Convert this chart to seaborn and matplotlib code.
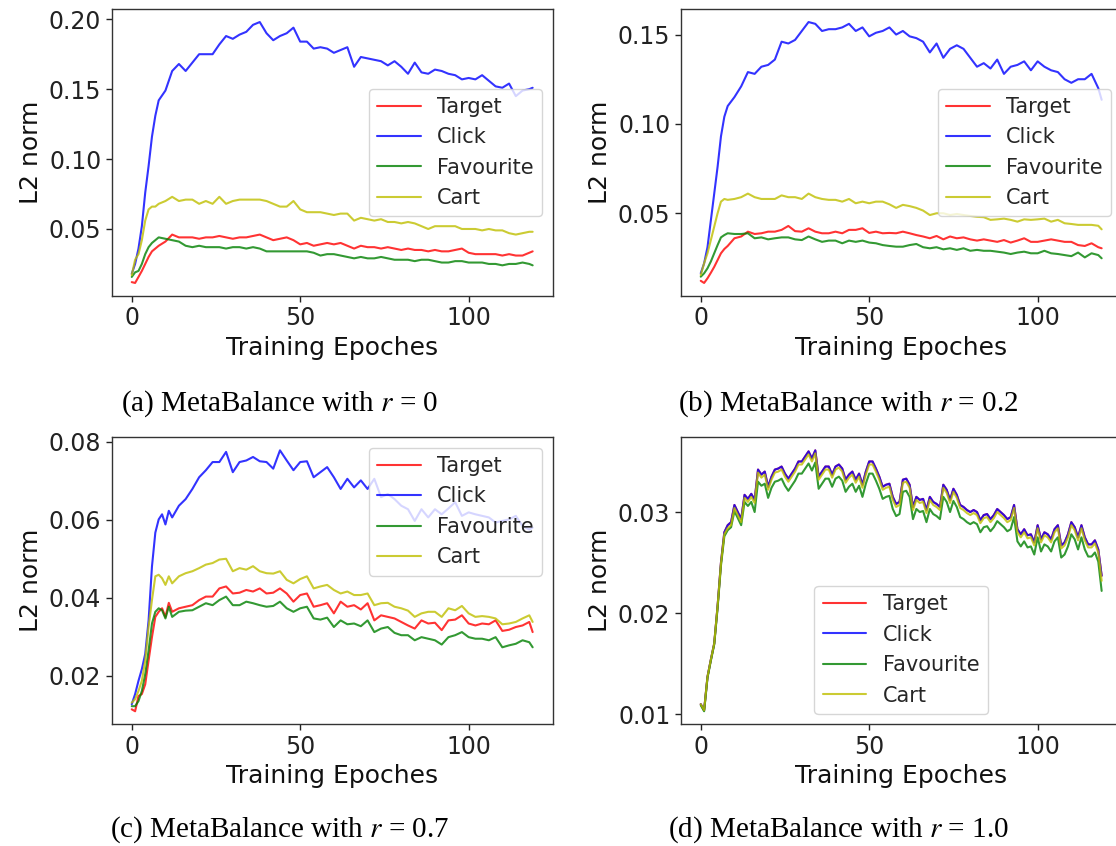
import matplotlib
matplotlib.use("Agg")
import matplotlib.pyplot as plt
import seaborn as sns

# ---------------- data ----------------
SERIES = ["Target", "Click", "Favourite", "Cart"]
COLORS = ["r", "b", "g", "y"]

EPOCHS_AB = [0, 1, 2, 3, 4, 5, 6, 7, 8,
             10, 12, 14, 16, 18, 20, 22, 24, 26, 28,
             30, 32, 34, 36, 38, 40, 42, 44, 46, 48,
             50, 52, 54, 56, 58, 60, 62, 64, 66, 68,
             70, 72, 74, 76, 78, 80, 82, 84, 86, 88,
             90, 92, 94, 96, 98, 100, 102, 104, 106, 108,
             110, 112, 114, 116, 118, 119]

A_TARGET = [0.012, 0.0114, 0.0157, 0.020, 0.025, 0.030, 0.034, 0.036, 0.038,
            0.041, 0.046, 0.044, 0.044, 0.044, 0.043, 0.044, 0.044, 0.045, 0.044,
            0.043, 0.044, 0.044, 0.045, 0.046, 0.044, 0.042, 0.043, 0.044, 0.042,
            0.039, 0.040, 0.038, 0.039, 0.040, 0.039, 0.040, 0.038, 0.036, 0.038,
            0.037, 0.037, 0.036, 0.037, 0.036, 0.035, 0.036, 0.035, 0.035, 0.034,
            0.035, 0.034, 0.034, 0.035, 0.036, 0.033, 0.032, 0.032, 0.032, 0.032,
            0.031, 0.032, 0.031, 0.031, 0.033, 0.034]
A_CLICK = [0.018, 0.025, 0.036, 0.052, 0.076, 0.095, 0.116, 0.131, 0.142,
           0.149, 0.163, 0.168, 0.163, 0.169, 0.175, 0.175, 0.175, 0.182, 0.188,
           0.186, 0.189, 0.191, 0.196, 0.198, 0.190, 0.185, 0.188, 0.190, 0.194,
           0.184, 0.184, 0.179, 0.180, 0.179, 0.176, 0.178, 0.180, 0.166, 0.173,
           0.172, 0.171, 0.170, 0.167, 0.170, 0.166, 0.161, 0.169, 0.162, 0.161,
           0.164, 0.163, 0.161, 0.160, 0.157, 0.158, 0.157, 0.160, 0.156, 0.152,
           0.151, 0.154, 0.145, 0.149, 0.150, 0.151]
A_FAV = [0.0157, 0.019, 0.020, 0.025, 0.032, 0.037, 0.040, 0.042, 0.044,
         0.043, 0.042, 0.041, 0.038, 0.037, 0.038, 0.037, 0.037, 0.037, 0.036,
         0.037, 0.037, 0.036, 0.037, 0.036, 0.034, 0.034, 0.034, 0.034, 0.034,
         0.034, 0.034, 0.033, 0.031, 0.032, 0.032, 0.031, 0.030, 0.029, 0.030,
         0.029, 0.029, 0.030, 0.029, 0.028, 0.028, 0.028, 0.027, 0.028, 0.028,
         0.027, 0.026, 0.026, 0.027, 0.027, 0.026, 0.026, 0.026, 0.025, 0.025,
         0.024, 0.025, 0.025, 0.026, 0.025, 0.024]
A_CART = [0.017, 0.028, 0.032, 0.042, 0.056, 0.064, 0.066, 0.066, 0.068,
          0.070, 0.073, 0.070, 0.071, 0.071, 0.068, 0.070, 0.068, 0.073, 0.068,
          0.070, 0.071, 0.071, 0.071, 0.071, 0.070, 0.068, 0.066, 0.066, 0.070,
          0.064, 0.062, 0.062, 0.062, 0.061, 0.060, 0.061, 0.061, 0.056, 0.058,
          0.057, 0.056, 0.057, 0.055, 0.055, 0.054, 0.055, 0.054, 0.052, 0.050,
          0.052, 0.052, 0.052, 0.052, 0.050, 0.050, 0.050, 0.049, 0.050, 0.049,
          0.049, 0.047, 0.046, 0.047, 0.048, 0.048]

B_TARGET = [0.0122, 0.011, 0.0136, 0.0167, 0.020, 0.0238, 0.0276, 0.030, 0.0317,
            0.036, 0.037, 0.0397, 0.0384, 0.0388, 0.0397, 0.0397, 0.0407, 0.0429, 0.040,
            0.0397, 0.0416, 0.0397, 0.0388, 0.0388, 0.0397, 0.0388, 0.0407, 0.0407, 0.0416,
            0.039, 0.0397, 0.0388, 0.039, 0.0388, 0.0397, 0.0388, 0.0378, 0.037, 0.036,
            0.0373, 0.0354, 0.037, 0.036, 0.0365, 0.0354, 0.0347, 0.0354, 0.0347, 0.034,
            0.035, 0.0336, 0.0347, 0.036, 0.034, 0.034, 0.0347, 0.0354, 0.0347, 0.034,
            0.034, 0.0322, 0.0317, 0.0332, 0.031, 0.0304]
B_CLICK = [0.0164, 0.022, 0.031, 0.046, 0.061, 0.076, 0.093, 0.104, 0.110,
           0.115, 0.121, 0.129, 0.128, 0.132, 0.133, 0.136, 0.146, 0.145, 0.147,
           0.152, 0.157, 0.156, 0.152, 0.153, 0.153, 0.154, 0.156, 0.152, 0.154,
           0.149, 0.151, 0.152, 0.154, 0.150, 0.152, 0.149, 0.148, 0.146, 0.140,
           0.145, 0.137, 0.142, 0.144, 0.142, 0.137, 0.132, 0.134, 0.131, 0.136,
           0.128, 0.132, 0.133, 0.135, 0.130, 0.135, 0.132, 0.130, 0.129, 0.125,
           0.123, 0.125, 0.125, 0.128, 0.120, 0.1135]
B_FAV = [0.0145, 0.0164, 0.0192, 0.023, 0.0276, 0.0322, 0.0365, 0.0378, 0.0388,
         0.0384, 0.0384, 0.0388, 0.036, 0.0365, 0.0354, 0.036, 0.0365, 0.0365, 0.0354,
         0.035, 0.037, 0.0354, 0.034, 0.0347, 0.0347, 0.0332, 0.0347, 0.034, 0.0347,
         0.0336, 0.0332, 0.0322, 0.0317, 0.0313, 0.0313, 0.0322, 0.0328, 0.031, 0.0304,
         0.031, 0.0298, 0.0304, 0.0295, 0.0304, 0.029, 0.0295, 0.029, 0.029, 0.0285,
         0.028, 0.0272, 0.028, 0.0285, 0.0276, 0.0276, 0.029, 0.0276, 0.0272, 0.0266,
         0.026, 0.028, 0.0253, 0.0276, 0.0266, 0.0248]
B_CART = [0.0154, 0.022, 0.0276, 0.035, 0.0425, 0.050, 0.0565, 0.058, 0.0575,
          0.058, 0.059, 0.061, 0.059, 0.058, 0.058, 0.058, 0.060, 0.059, 0.059,
          0.058, 0.061, 0.059, 0.058, 0.0575, 0.0575, 0.0565, 0.058, 0.0556, 0.0565,
          0.0556, 0.0565, 0.0565, 0.055, 0.053, 0.0547, 0.054, 0.053, 0.0515, 0.049,
          0.050, 0.050, 0.049, 0.0496, 0.049, 0.0485, 0.048, 0.0478, 0.0463, 0.0466,
          0.047, 0.0463, 0.0453, 0.0466, 0.0463, 0.0466, 0.047, 0.0453, 0.0463, 0.0444,
          0.044, 0.0435, 0.0435, 0.0435, 0.043, 0.041]

EPOCHS_C = [0, 1, 2, 3, 4, 5, 6, 7, 8, 9, 10, 11, 12,
            14, 16, 18, 20, 22, 24, 26, 28, 30, 32,
            34, 36, 38, 40, 42, 44, 46, 48, 50, 52,
            54, 56, 58, 60, 62, 64, 66, 68, 70, 72,
            74, 76, 78, 80, 82, 84, 86, 88, 90, 92,
            94, 96, 98, 100, 102, 104, 106, 108, 110, 112,
            114, 116, 118, 119]

C_TARGET = [0.0114, 0.0109, 0.0148, 0.0153, 0.0178, 0.0239, 0.0299, 0.0351, 0.0364, 0.0373, 0.0351, 0.0387, 0.0364,
            0.0373, 0.0377, 0.0381, 0.0394, 0.0403, 0.0403, 0.0424, 0.0429, 0.0411, 0.0413,
            0.042, 0.0416, 0.0424, 0.0411, 0.0413, 0.0424, 0.0411, 0.039, 0.0407, 0.0411,
            0.0377, 0.0381, 0.0386, 0.036, 0.039, 0.0377, 0.0381, 0.037, 0.0386, 0.0342,
            0.0355, 0.0351, 0.0347, 0.0338, 0.0329, 0.0321, 0.0342, 0.0334, 0.0336, 0.0317,
            0.0342, 0.0344, 0.0355, 0.0334, 0.0329, 0.0334, 0.0332, 0.0342, 0.0315, 0.0318,
            0.0325, 0.0329, 0.0338, 0.0312]
C_CLICK = [0.0127, 0.0153, 0.0187, 0.0217, 0.0256, 0.0342, 0.048, 0.0567, 0.0601, 0.0614, 0.0588, 0.0623, 0.0606,
           0.0636, 0.0653, 0.0679, 0.0709, 0.0727, 0.0748, 0.0748, 0.0774, 0.0722, 0.0748,
           0.0752, 0.0761, 0.075, 0.0748, 0.0731, 0.0778, 0.0752, 0.0727, 0.0748, 0.075,
           0.0709, 0.0722, 0.0735, 0.0709, 0.0679, 0.0705, 0.0683, 0.0701, 0.0679, 0.0705,
           0.0658, 0.0666, 0.0653, 0.0636, 0.0627, 0.0597, 0.0627, 0.0606, 0.0627, 0.0614,
           0.0629, 0.0645, 0.061, 0.0619, 0.0614, 0.061, 0.0606, 0.0593, 0.0597, 0.0601,
           0.061, 0.0584, 0.0575, 0.058]
C_FAV = [0.0122, 0.0122, 0.0135, 0.0161, 0.0204, 0.0265, 0.0334, 0.0364, 0.0373, 0.0368, 0.0347, 0.0377, 0.0351,
         0.0364, 0.0367, 0.0368, 0.0377, 0.0386, 0.0381, 0.0394, 0.0403, 0.0381, 0.0381,
         0.039, 0.0386, 0.0381, 0.0377, 0.0379, 0.039, 0.0373, 0.0364, 0.0373, 0.0377,
         0.0347, 0.0344, 0.0349, 0.0325, 0.0342, 0.0332, 0.0334, 0.0327, 0.0342, 0.0312,
         0.0321, 0.0325, 0.031, 0.0304, 0.0304, 0.0291, 0.0299, 0.0295, 0.0291, 0.028,
         0.0299, 0.0304, 0.0312, 0.0299, 0.0295, 0.0295, 0.0291, 0.0299, 0.0273, 0.0278,
         0.0282, 0.0291, 0.0286, 0.0273]
C_CART = [0.0131, 0.014, 0.0161, 0.0187, 0.0239, 0.0325, 0.0394, 0.0455, 0.0459, 0.045, 0.0433, 0.0455, 0.0437,
          0.0455, 0.0463, 0.0468, 0.0476, 0.0485, 0.0489, 0.0498, 0.05, 0.0468, 0.0476,
          0.0472, 0.0481, 0.0468, 0.0463, 0.0462, 0.0468, 0.0446, 0.0437, 0.0448, 0.0455,
          0.0424, 0.0429, 0.0433, 0.042, 0.0411, 0.0416, 0.0407, 0.0407, 0.0411, 0.0381,
          0.0386, 0.0387, 0.0377, 0.0373, 0.0367, 0.0351, 0.036, 0.0364, 0.0364, 0.0351,
          0.0373, 0.0368, 0.0379, 0.036, 0.0351, 0.0353, 0.0351, 0.0347, 0.0332, 0.0334,
          0.0338, 0.0347, 0.0355, 0.0338]

EPOCHS_D = list(range(120))

D_TARGET = [0.0110, 0.0104, 0.0137, 0.0154, 0.0170, 0.0207, 0.0250, 0.0280, 0.0287, 0.0290,
            0.0307, 0.0300, 0.0293, 0.0317, 0.0313, 0.0318, 0.0312, 0.0342, 0.0337, 0.0340,
            0.0325, 0.0335, 0.0342, 0.0343, 0.0345, 0.0338, 0.0333, 0.0338, 0.0343, 0.0350,
            0.0350, 0.0355, 0.0360, 0.0353, 0.0361, 0.0335, 0.0340, 0.0345, 0.0345, 0.0337,
            0.0345, 0.0347, 0.0343, 0.0332, 0.0337, 0.0340, 0.0332, 0.0338, 0.0327, 0.0340,
            0.0350, 0.0350, 0.0343, 0.0335, 0.0325, 0.0327, 0.0328, 0.0315, 0.0308, 0.0310,
            0.0332, 0.0333, 0.0327, 0.0305, 0.0315, 0.0312, 0.0313, 0.0302, 0.0315, 0.0310,
            0.0308, 0.0305, 0.0327, 0.0322, 0.0312, 0.0323, 0.0317, 0.0307, 0.0305, 0.0302,
            0.0300, 0.0302, 0.0300, 0.0292, 0.0297, 0.0298, 0.0293, 0.0297, 0.0303, 0.0300,
            0.0297, 0.0293, 0.0295, 0.0307, 0.0283, 0.0278, 0.0283, 0.0277, 0.0278, 0.0270,
            0.0287, 0.0273, 0.0280, 0.0278, 0.0273, 0.0283, 0.0287, 0.0267, 0.0270, 0.0278,
            0.0290, 0.0285, 0.0275, 0.0287, 0.0275, 0.0268, 0.0268, 0.0272, 0.0263, 0.0237]
D_CLICK = [0.0110, 0.0104, 0.0137, 0.0154, 0.0170, 0.0207, 0.0250, 0.0280, 0.0287, 0.0290,
           0.0307, 0.0300, 0.0293, 0.0317, 0.0313, 0.0318, 0.0312, 0.0342, 0.0337, 0.0340,
           0.0325, 0.0335, 0.0342, 0.0343, 0.0345, 0.0338, 0.0333, 0.0338, 0.0343, 0.0350,
           0.0350, 0.0355, 0.0360, 0.0353, 0.0361, 0.0335, 0.0340, 0.0345, 0.0345, 0.0337,
           0.0345, 0.0347, 0.0343, 0.0332, 0.0337, 0.0340, 0.0332, 0.0338, 0.0327, 0.0340,
           0.0350, 0.0350, 0.0343, 0.0335, 0.0325, 0.0327, 0.0328, 0.0315, 0.0308, 0.0310,
           0.0332, 0.0333, 0.0327, 0.0305, 0.0315, 0.0312, 0.0313, 0.0302, 0.0315, 0.0310,
           0.0308, 0.0305, 0.0327, 0.0322, 0.0312, 0.0323, 0.0317, 0.0307, 0.0305, 0.0302,
           0.0300, 0.0302, 0.0300, 0.0292, 0.0297, 0.0298, 0.0293, 0.0297, 0.0303, 0.0300,
           0.0297, 0.0293, 0.0295, 0.0307, 0.0283, 0.0278, 0.0283, 0.0277, 0.0278, 0.0270,
           0.0287, 0.0273, 0.0280, 0.0278, 0.0273, 0.0283, 0.0287, 0.0267, 0.0270, 0.0278,
           0.0290, 0.0285, 0.0275, 0.0287, 0.0275, 0.0268, 0.0268, 0.0272, 0.0263, 0.0237]
D_FAV = [0.0109, 0.0103, 0.0136, 0.0153, 0.0169, 0.0205, 0.0247, 0.0276, 0.0282, 0.0285,
         0.0301, 0.0294, 0.0287, 0.0310, 0.0306, 0.0310, 0.0300, 0.0330, 0.0326, 0.0328,
         0.0314, 0.0324, 0.0330, 0.0331, 0.0333, 0.0326, 0.0321, 0.0326, 0.0331, 0.0338,
         0.0338, 0.0343, 0.0348, 0.0341, 0.0349, 0.0323, 0.0328, 0.0333, 0.0333, 0.0325,
         0.0333, 0.0335, 0.0331, 0.0320, 0.0325, 0.0328, 0.0320, 0.0326, 0.0315, 0.0328,
         0.0338, 0.0338, 0.0331, 0.0323, 0.0313, 0.0315, 0.0316, 0.0303, 0.0296, 0.0298,
         0.0320, 0.0321, 0.0315, 0.0293, 0.0303, 0.0300, 0.0301, 0.0290, 0.0303, 0.0298,
         0.0296, 0.0293, 0.0315, 0.0310, 0.0300, 0.0311, 0.0305, 0.0295, 0.0293, 0.0290,
         0.0288, 0.0290, 0.0288, 0.0280, 0.0285, 0.0286, 0.0281, 0.0285, 0.0291, 0.0288,
         0.0285, 0.0281, 0.0283, 0.0295, 0.0271, 0.0266, 0.0271, 0.0265, 0.0266, 0.0258,
         0.0275, 0.0261, 0.0268, 0.0266, 0.0261, 0.0271, 0.0275, 0.0255, 0.0258, 0.0266,
         0.0278, 0.0273, 0.0263, 0.0275, 0.0263, 0.0256, 0.0256, 0.0260, 0.0251, 0.0222]
D_CART = [0.0110, 0.0104, 0.0137, 0.0154, 0.0170, 0.0207, 0.0249, 0.0278, 0.0284, 0.0287,
          0.0304, 0.0297, 0.0290, 0.0314, 0.0310, 0.0315, 0.0309, 0.0339, 0.0334, 0.0337,
          0.0322, 0.0332, 0.0339, 0.0340, 0.0342, 0.0335, 0.0330, 0.0335, 0.0340, 0.0347,
          0.0347, 0.0352, 0.0357, 0.0350, 0.0358, 0.0332, 0.0337, 0.0342, 0.0342, 0.0334,
          0.0342, 0.0344, 0.0340, 0.0329, 0.0334, 0.0337, 0.0329, 0.0335, 0.0324, 0.0337,
          0.0347, 0.0347, 0.0340, 0.0332, 0.0322, 0.0324, 0.0325, 0.0312, 0.0305, 0.0307,
          0.0329, 0.0330, 0.0324, 0.0302, 0.0312, 0.0309, 0.0310, 0.0299, 0.0312, 0.0307,
          0.0305, 0.0302, 0.0324, 0.0319, 0.0309, 0.0320, 0.0314, 0.0304, 0.0302, 0.0299,
          0.0297, 0.0299, 0.0297, 0.0289, 0.0294, 0.0295, 0.0290, 0.0294, 0.0300, 0.0297,
          0.0294, 0.0290, 0.0292, 0.0304, 0.0280, 0.0275, 0.0280, 0.0274, 0.0275, 0.0267,
          0.0284, 0.0270, 0.0277, 0.0275, 0.0270, 0.0280, 0.0284, 0.0264, 0.0267, 0.0275,
          0.0287, 0.0282, 0.0272, 0.0284, 0.0272, 0.0265, 0.0265, 0.0269, 0.0260, 0.0232]

X_TICKS = [0, 50, 100]
Y_TICKS_A = [0.05, 0.10, 0.15, 0.20]
Y_TICKS_B = [0.05, 0.10, 0.15]
Y_TICKS_C = [0.02, 0.04, 0.06, 0.08]
Y_TICKS_D = [0.01, 0.02, 0.03]

CAPTIONS = [r"(a) MetaBalance with $r$ = 0", r"(b) MetaBalance with $r$ = 0.2",
            r"(c) MetaBalance with $r$ = 0.7", r"(d) MetaBalance with $r$ = 1.0"]

# ---------------- style ----------------
sns.set_style("ticks")
plt.rcParams["font.family"] = ["DejaVu Sans"]
plt.rcParams["mathtext.fontset"] = "stix"
plt.rcParams["axes.linewidth"] = 1.0
plt.rcParams["axes.edgecolor"] = "#333333"

W, H = 1116, 846
fig = plt.figure(figsize=(W / 100, H / 100), dpi=100)


def px_axes(l, t, r, b):
    return fig.add_axes([l / W, 1 - b / H, (r - l) / W, (b - t) / H])


panels = [
    dict(box=(111.7, 9, 552.7, 296), x=EPOCHS_AB, ys=[A_TARGET, A_CLICK, A_FAV, A_CART],
         yt=Y_TICKS_A, loc="center right", cap=(120.7, 404)),
    dict(box=(680.7, 9, 1121.7, 296), x=EPOCHS_AB, ys=[B_TARGET, B_CLICK, B_FAV, B_CART],
         yt=Y_TICKS_B, loc="center right", cap=(678.3, 404)),
    dict(box=(111.7, 437.3, 552.7, 724.3), x=EPOCHS_C, ys=[C_TARGET, C_CLICK, C_FAV, C_CART],
         yt=Y_TICKS_C, loc="upper right", cap=(110, 830)),
    dict(box=(680.7, 437.3, 1121.7, 724.3), x=EPOCHS_D, ys=[D_TARGET, D_CLICK, D_FAV, D_CART],
         yt=Y_TICKS_D, loc="lower center", cap=(667.6, 830)),
]

for p, caption in zip(panels, CAPTIONS):
    ax = px_axes(*p["box"])
    for name, col, vals in zip(SERIES, COLORS, p["ys"]):
        sns.lineplot(x=p["x"], y=vals, color=col, alpha=0.8, linewidth=1.5,
                     label=name, ax=ax)
    ax.set_xticks(X_TICKS)
    ax.set_yticks(p["yt"])
    ax.yaxis.set_major_formatter(matplotlib.ticker.FormatStrFormatter("%.2f"))
    ax.tick_params(labelsize=17, length=4, width=1, colors="#222222")
    ax.set_xlabel("Training Epoches", fontsize=18, color="#111111")
    ax.set_ylabel("L2 norm", fontsize=18, color="#111111")
    ax.legend(loc=p["loc"], fontsize=15, handlelength=2.1, labelspacing=0.5,
              borderpad=0.4, framealpha=0.8)
    cx, cy = p["cap"]
    fig.text(cx / W, 1 - cy / H, caption, ha="left", va="center",
             fontsize=21, family="Liberation Serif", color="black")

fig.savefig("out.png", dpi=100)
